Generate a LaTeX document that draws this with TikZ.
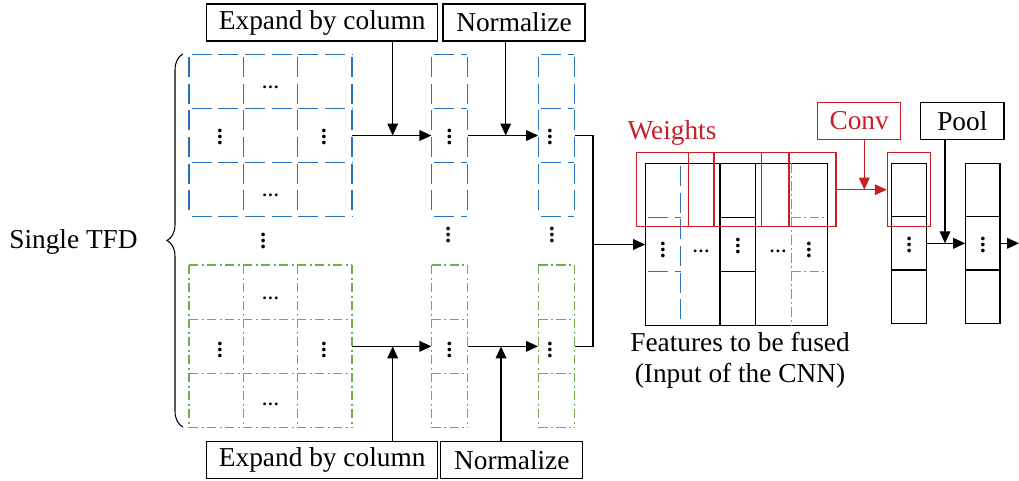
\documentclass[tikz,border=0pt]{standalone}
\usepackage{fontspec}
\setmainfont{Liberation Serif}
\usetikzlibrary{arrows.meta,decorations.pathreplacing}
\definecolor{cblue}{RGB}{40,115,190}
\definecolor{cgreen}{RGB}{112,173,71}
\definecolor{cred}{RGB}{200,30,40}
\newcommand\myvd{\vbox{\baselineskip 4.2pt \lineskiplimit 0pt \hbox{.}\hbox{.}\hbox{.}}}
\tikzset{
  lbl/.style={draw, line width=0.8pt, inner sep=0pt, font=\fontsize{20.5}{24}\selectfont},
  txt/.style={inner sep=0pt, font=\fontsize{20.5}{24}\selectfont},
  blu/.style={draw=cblue, line width=0.9pt, dash pattern=on 15pt off 5pt, dash phase=-2pt},
  grn/.style={draw=cgreen, line width=0.9pt, dash pattern=on 7pt off 2.5pt on 1.5pt off 2.5pt},
  blk/.style={draw, line width=0.8pt},
  redb/.style={draw=cred, line width=0.8pt},
  arr/.style={line width=1pt, -{Triangle[length=9pt,width=8pt]}},
  hd/.style={inner sep=0pt, font=\bfseries\fontsize{13}{13}\selectfont},
  vd/.style={inner sep=0pt, font=\bfseries\fontsize{17}{17}\selectfont},
  box/.style={inner sep=0pt},
}
\begin{document}
\begin{tikzpicture}[x=0.75pt,y=-0.75pt]
\useasboundingbox (0,0) rectangle (1019,480);

% labels
\node[lbl, minimum width=173.25pt, minimum height=27.75pt] (expT) at (322.2,22.5) {Expand by column};
\node[lbl, minimum width=106.5pt, minimum height=27.75pt] (normT) at (514,22.5) {Normalize};
\node[lbl, minimum width=173.25pt, minimum height=27.75pt] (expB) at (322.2,460.3) {Expand by column};
\node[lbl, minimum width=106.3pt, minimum height=27.75pt] (normB) at (511.8,460.3) {Normalize};
\node[txt] (tfd) at (73.5,242) {Single TFD};

% brace
\draw[decorate, decoration={brace, amplitude=12pt}, line width=0.8pt] (183,427) -- (183,54);

% blue grid
\node[box, minimum width=122.25pt, minimum height=121.8pt] (gB) at (270.5,135.5) {};
\foreach \x in {189,243.3,297.7,352} \draw[blu] (\x,54.3) -- (\x,216.7);
\foreach \y in {54.3,108.4,162.6,216.7} \draw[blu] (189,\y) -- (352,\y);
% green grid
\node[box, minimum width=122.25pt, minimum height=122pt] (gG) at (270.5,346.35) {};
\foreach \x in {189,243.3,297.7,352} \draw[grn] (\x,265) -- (\x,427.7);
\foreach \y in {265,319.2,373.5,427.7} \draw[grn] (189,\y) -- (352,\y);

% columns
\node[box, minimum width=26.7pt, minimum height=121.8pt] (cB1) at (449.5,135.5) {};
\node[box, minimum width=27pt, minimum height=121.8pt] (cB2) at (556.3,135.5) {};
\node[box, minimum width=26.7pt, minimum height=122pt] (cG1) at (449.5,346.35) {};
\node[box, minimum width=27pt, minimum height=122pt] (cG2) at (556.3,346.35) {};
\foreach \xa/\xb in {431.7/467.3, 538.3/574.3} {
  \draw[blu] (\xa,54.3) -- (\xa,216.7);
  \draw[blu] (\xb,54.3) -- (\xb,216.7);
  \foreach \y in {54.3,108.4,162.6,216.7} \draw[blu] (\xa,\y) -- (\xb,\y);
  \draw[grn] (\xa,265) -- (\xa,427.7);
  \draw[grn] (\xb,265) -- (\xb,427.7);
  \foreach \y in {265,319.2,373.5,427.7} \draw[grn] (\xa,\y) -- (\xb,\y);
}

% dots in grids
\node[hd] at (270.5,87) {…};
\node[hd] at (270.5,195) {…};
\node[vd] at (220,137) {\myvd};
\node[vd] at (324,137) {\myvd};
\node[hd] at (270.5,298) {…};
\node[hd] at (270.5,404) {…};
\node[vd] at (220,350) {\myvd};
\node[vd] at (324,350) {\myvd};
\node[vd] at (449.5,137) {\myvd};
\node[vd] at (550,137) {\myvd};
\node[vd] at (449.5,350) {\myvd};
\node[vd] at (550,350) {\myvd};
\node[vd] at (263.3,241) {\myvd};
\node[vd] at (448.3,235) {\myvd};
\node[vd] at (552,235) {\myvd};

% connectors left part
\coordinate (m1) at (392.7,135.5);
\coordinate (m2) at (505.7,135.5);
\coordinate (m3) at (392.7,346.35);
\coordinate (m4) at (501,346.35);
\draw[line width=1pt] (gB.east) -- (m1);
\draw[arr] (m1) -- (cB1.west);
\draw[line width=1pt] (cB1.east) -- (m2);
\draw[arr] (m2) -- (cB2.west);
\draw[line width=1pt] (gG.east) -- (m3);
\draw[arr] (m3) -- (cG1.west);
\draw[line width=1pt] (cG1.east) -- (m4);
\draw[arr] (m4) -- (cG2.west);
\draw[arr] (expT.south -| m1) -- (m1);
\draw[arr] (normT.south -| m2) -- (m2);
\draw[arr] (expB.north -| m3) -- (m3);
\draw[arr] (normB.north -| m4) -- (m4);
\coordinate (j) at (593,244.5);
\draw[line width=1pt] (cB2.east) -| (j) |- (cG2.east);

% feature box
\node[box, blk, minimum width=136.2pt, minimum height=121.8pt] (feat) at (736.5,244.5) {};
\draw[arr] (j) -- (feat.west);
\draw[blu] (680.7,163.3) -- (680.7,325.7);
\draw[blu] (645.7,217.4) -- (680.7,217.4);
\draw[blu] (645.7,271.6) -- (680.7,271.6);
\node[box, blk, minimum width=26.8pt, minimum height=121.8pt] (fc) at (737.85,244.5) {};
\draw[blk] (720,217.4) -- (755.7,217.4);
\draw[blk] (720,271.6) -- (755.7,271.6);
\draw[grn] (791.7,163.3) -- (791.7,325.7);
\draw[grn] (791.7,217.4) -- (827.3,217.4);
\draw[grn] (791.7,271.6) -- (827.3,271.6);
\node[vd] at (663,250) {\myvd};
\node[hd] at (701,251) {…};
\node[vd] at (738,246) {\myvd};
\node[hd] at (778,251) {…};
\node[vd] at (809,250) {\myvd};
\node[txt] (ft1) at (740,342) {Features to be fused};
\node[txt] (ft2) at (740,376) {(Input of the CNN)};

% red weights
\node[box, redb, minimum width=149.5pt, minimum height=55.5pt] (wout) at (736.35,189.7) {};
\draw[redb] (688.3,152.7) -- (688.3,226.7);
\draw[redb] (714,152.7) -- (714,226.7);
\draw[redb] (761.7,152.7) -- (761.7,226.7);
\draw[redb] (789,152.7) -- (789,226.7);
\node[txt, text=cred] (wl) at (672,133) {Weights};
\node[lbl, draw=cred, text=cred, minimum width=62.25pt, minimum height=27.45pt] (conv) at (859.2,121) {Conv};
\node[box, redb, minimum width=32.55pt, minimum height=55.5pt] (rb) at (909,189.7) {};
\coordinate (m5) at (864.3,189.7);
\draw[line width=1pt, cred] (wout.east) -- (m5);
\draw[arr, cred] (m5) -- (rb.west);
\draw[arr, cred] (conv.south -| m5) -- (m5);

% CNN columns
\node[box, blk, minimum width=26.25pt, minimum height=120pt] (c1) at (909.2,243.3) {};
\draw[blk] (891.7,216.7) -- (926.7,216.7);
\draw[blk] (891.7,270) -- (926.7,270);
\node[box, blk, minimum width=25.7pt, minimum height=120pt] (c2) at (982.85,243.3) {};
\draw[blk] (965.7,216.7) -- (1000,216.7);
\draw[blk] (965.7,270) -- (1000,270);
\node[vd] at (909.2,245) {\myvd};
\node[vd] at (982.85,245) {\myvd};
\node[lbl, minimum width=62.5pt, minimum height=27.45pt] (pool) at (962.3,121) {Pool};
\coordinate (m6) at (945,243.3);
\draw[line width=1pt] (c1.east) -- (m6);
\draw[arr] (m6) -- (c2.west);
\draw[arr] (pool.south -| m6) -- (m6);
\coordinate (out) at (1019,243.3);
\draw[arr] (c2.east) -- (out);
\end{tikzpicture}
\end{document}
